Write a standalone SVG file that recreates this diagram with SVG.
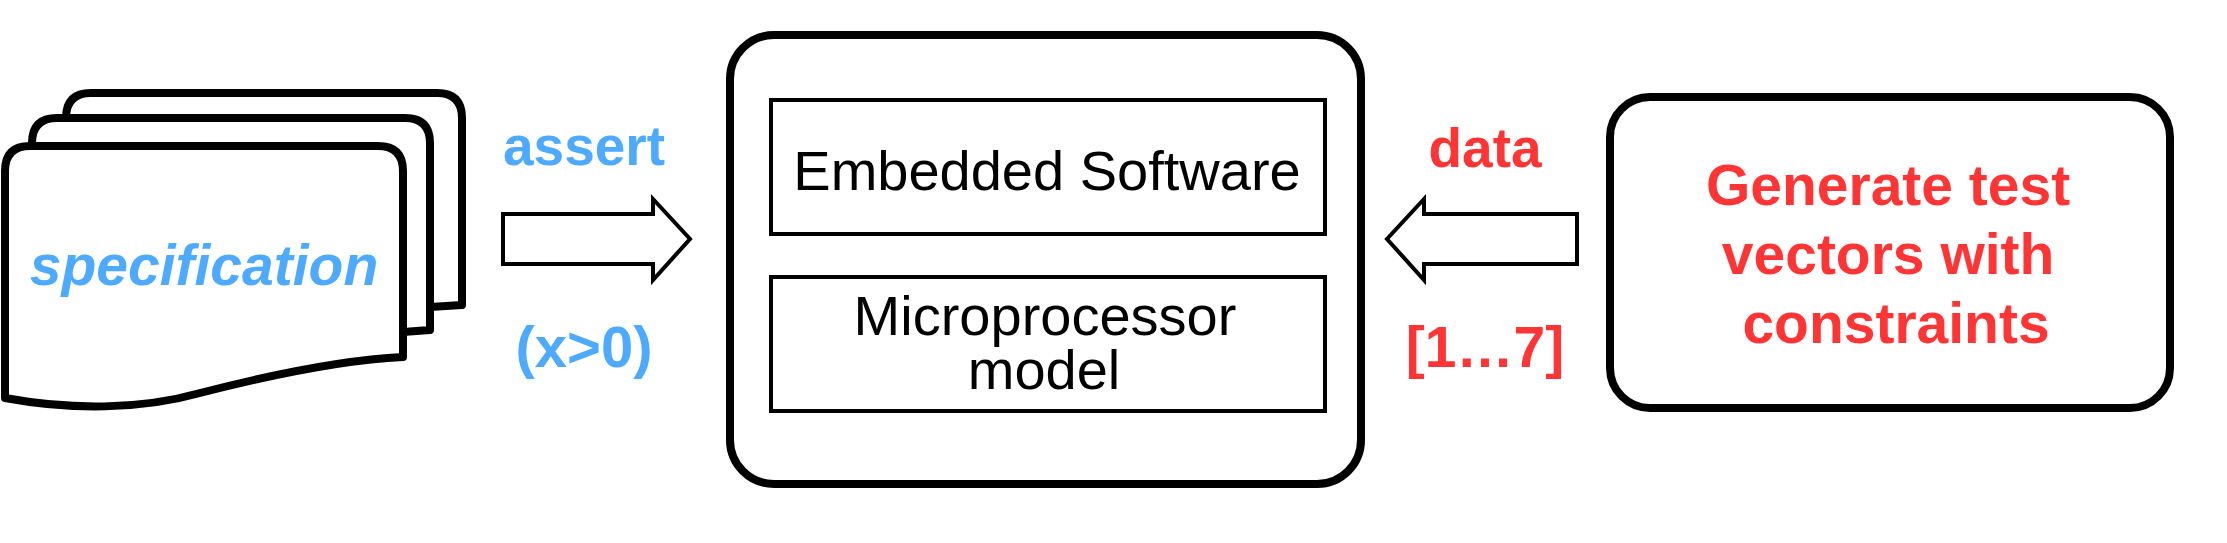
<svg xmlns="http://www.w3.org/2000/svg" width="2227" height="543" viewBox="0 0 2227 543">
<style>
.doc{fill:#fff;stroke:#000;stroke-width:8;stroke-linejoin:round}
.box{fill:#fff;stroke:#000;stroke-width:8}
.inner{fill:#fff;stroke:#000;stroke-width:4}
.arrow{fill:#fff;stroke:#000;stroke-width:4;stroke-linejoin:miter}
.blue{fill:#4DAAFF;font-family:"Liberation Sans",Arial,sans-serif;font-weight:bold}
.red{fill:#FF3434;font-family:"Liberation Sans",Arial,sans-serif;font-weight:bold}
.blk{fill:#000;font-family:"Liberation Sans",Arial,sans-serif;font-size:56px}
</style>
<rect width="2227" height="543" fill="#fff"/>
<g id="specification">
  <path class="doc" d="M66,306 L66,118 Q66,93 91,93 L437,93 Q462,93 462,118 L462,305 L430,307"/>
  <path class="doc" d="M32,330 L32,143 Q32,118 57,118 L405,118 Q430,118 430,143 L430,330 L403,332"/>
  <path class="doc" d="M5,398 L5,171 Q5,146 30,146 L378,146 Q403,146 403,171 L403,357 C340,360 270,375 200,393 C140,410 70,410 5,398 Z"/>
  <text class="blue" x="204" y="285" font-size="57" font-style="italic" text-anchor="middle">specification</text>
</g>
<g id="system">
  <rect class="box" x="730" y="35" width="631" height="449" rx="44" ry="44"/>
  <g id="embedded-software">
    <rect class="inner" x="771" y="100" width="554" height="134"/>
    <text class="blk" x="1047" y="190" text-anchor="middle">Embedded Software</text>
  </g>
  <g id="microprocessor-model">
    <rect class="inner" x="771" y="277" width="554" height="134"/>
    <text class="blk" text-anchor="middle"><tspan x="1045" y="335">Microprocessor</tspan><tspan x="1044" y="389">model</tspan></text>
  </g>
</g>
<g id="generator">
  <rect class="box" x="1610" y="97" width="560" height="311" rx="40" ry="40"/>
  <text class="red" font-size="57" text-anchor="middle">
    <tspan x="1896" y="205">Generate test</tspan>
    <tspan x="1896" y="274">vectors with</tspan>
    <tspan x="1896" y="343">constraints</tspan>
  </text>
</g>
<g id="connectors">
  <polygon class="arrow" points="503,214 653,214 653,199 690,239 653,280 653,264 503,264"/>
  <text class="blue" x="584" y="165" font-size="55" text-anchor="middle">assert</text>
  <text class="blue" x="584" y="367" font-size="58" text-anchor="middle">(x&gt;0)</text>
  <polygon class="arrow" points="1577,214 1424,214 1424,199 1387,239 1424,280 1424,264 1577,264"/>
  <text class="red" x="1485" y="167" font-size="55" text-anchor="middle">data</text>
  <text class="red" x="1485" y="367" font-size="57" text-anchor="middle">[1…7]</text>
</g>
</svg>
